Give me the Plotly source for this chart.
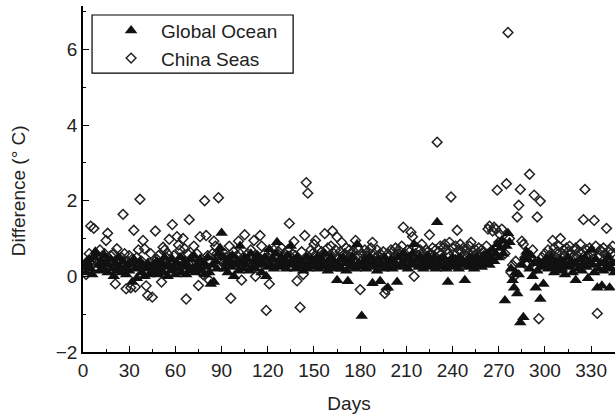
import plotly.graph_objects as go

# Daily temperature differences (°C), day 1 onwards
global_ocean = [
    0.25, 0.1, 0.35, 0.45, 0.2, 0.05, 0.5, 0.65, 0.6, 0.3, 0.15, 0.4, 0.2, 0.55, 0.35,
    0.1, 0.3, 0.45, 0.2, 0.0, 0.35, 0.15, 0.5, 0.25, 0.1, 0.4, 0.2, 0.05, 0.3, 0.15,
    0.35, -0.15, 0.45, 0.2, -0.05, 0.25, 0.4, 0.1, 0.3, 0.0, 0.2, 0.35, 0.05, 0.25, 0.1,
    0.3, 0.15, 0.4, 0.05, 0.2, 0.35, 0.1, 0.5, 0.25, 0.0, 0.3, 0.15, 0.45, 0.2, 0.05,
    0.35, 0.2, 0.5, 0.1, 0.25, 0.4, 0.05, 0.3, 0.15, 0.45, 0.2, 0.55, 0.1, 0.3, 0.2,
    0.45, 0.15, 0.35, 0.05, 0.25, 0.5, 0.1, -0.2, 0.3, -0.15, 0.4, 0.2, 0.6, 0.75, 1.15,
    0.5, 0.2, 0.35, 0.1, 0.45, 0.25, 0.55, 0.0, 0.3, 0.4, 0.15, 0.8, 0.35, 0.2, 0.5,
    0.3, 0.45, 0.15, 0.6, 0.25, 0.4, 0.2, 0.55, 0.3, 0.45, 0.1, 0.35, 0.5, 0.0, 0.25,
    0.72, 0.3, 0.45, 0.2, 0.6, 0.9, 0.35, 0.25, 0.5, 0.3, 0.4, 0.2, 0.55, 0.35, 0.8,
    0.3, 0.45, 0.2, 0.5, 0.35, 0.25, 0.4, 0.15, 0.3, 0.5, 0.2, 0.35, 0.45, 0.25, 0.4,
    0.3, 0.5, 0.2, 0.35, 0.45, 0.25, 0.6, 0.3, 0.15, 0.4, 0.5, 0.25, 0.35, 0.2, -0.1,
    0.3, 0.45, 0.2, 0.5, 0.35, 0.15, -0.13, 0.4, 0.25, 0.5, 0.3, 0.2, 0.85, 0.35, 0.25,
    -1.05, 0.3, 0.45, 0.2, 0.35, 0.5, 0.25, -0.18, 0.4, 0.3, 0.15, 0.45, -0.13, 0.3, 0.2,
    0.5, 0.35, -0.3, 0.25, 0.45, 0.2, 0.4, 0.3, -0.15, 0.5, 0.25, 0.35, 0.6, 0.3, 0.45,
    0.2, 0.5, 0.35, 0.6, 0.85, 0.3, 0.45, 0.25, 0.5, 0.35, 0.2, 0.45, 0.3, 0.55, 0.25,
    0.4, 0.3, 0.5, 0.2, 1.43, 0.35, 0.45, 0.25, 0.5, 0.3, 0.2, -0.15, 0.4, 0.3, 0.5,
    0.25, 0.45, 0.35, 0.2, 0.5, 0.3, 0.4, -0.1, 0.35, 0.25, 0.5, 0.3, 0.45, 0.2, 0.35,
    0.5, 0.3, 0.4, 0.25, 0.55, 0.35, 0.45, 0.6, 0.3, 0.5, 0.7, 0.4, 0.6, 0.85, 0.5,
    0.75, 0.95, 0.6, -0.64, 0.8, 1.14, 0.9, 0.2, -0.1, -0.3, 0.1, -0.45, 0.05, -1.22, 0.3,
    -1.08, 0.5, 0.65, 0.45, 0.2, 0.55, 0.0, 0.35, -0.3, 0.15, 0.4, -0.6, 0.25, -0.2, 0.3,
    0.45, 0.2, 0.35, 0.5, 0.25, 0.1, 0.4, 0.3, 0.15, 0.45, 0.2, 0.35, 0.05, 0.3, 0.5,
    0.25, 0.4, 0.1, 0.35, -0.1, 0.3, 0.2, 0.45, 0.15, 0.35, 0.5, 0.25, -0.05, 0.4, 0.7,
    0.3, 0.1, 0.45, -0.3, 0.2, 0.35, -0.25, 0.15, 0.4, 0.25, 0.5, -0.3, 0.2, 0.35, 0.1,
]

china_seas = [
    0.3, 0.05, 0.4, 0.6, 1.33, 0.45, 1.27, 0.25, 0.55, 0.35, 0.7, 0.5, 0.3, 0.6, 0.95,
    1.14, 0.4, 0.55, 0.3, 0.6, -0.2, 0.73, 0.45, 0.35, 0.5, 1.64, 0.6, -0.33, 0.4, 0.55,
    -0.3, 0.45, 1.22, -0.28, 0.5, 0.7, 2.04, 0.4, 0.95, 0.73, -0.25, -0.5, 0.35, 0.6, -0.55,
    0.3, 1.2, 0.45, 0.55, 0.35, -0.15, 0.77, 0.7, 0.5, 0.6, 0.98, 0.4, 1.37, 0.55, 0.3,
    1.05, 0.83, 0.7, 0.45, 1.0, 0.73, -0.6, 0.6, 1.5, 0.35, 0.5, 0.8, 0.4, 0.6, -0.24,
    1.05, 0.45, 0.05, 2.0, 1.08, 0.55, -0.1, 0.4, 0.6, 0.93, 0.8, 0.6, 2.08, 0.45, 0.55,
    0.35, 0.6, 0.5, 0.3, 0.8, -0.58, 0.45, 0.65, 0.4, 0.55, 0.93, 0.6, -0.1, 0.5, 1.1,
    0.4, 0.6, 0.35, 0.7, 0.5, 0.95, 0.0, 0.55, 0.45, 1.08, 0.8, 0.4, 0.6, -0.9, 0.5,
    -0.2, 0.6, 0.45, 0.7, 0.35, 0.55, 0.65, 0.4, 0.75, 0.5, 0.6, 0.45, 0.7, 1.4, 0.5,
    0.6, 0.92, 0.55, -0.12, 0.4, -0.82, 0.65, 0.05, 1.08, 2.48, 2.2, 0.5, 0.7, 0.6, 0.85,
    0.95, 0.55, 0.7, 0.45, 0.65, 0.6, 1.13, 0.5, 0.75, 0.55, 0.8, 1.2, 0.6, 0.7, 1.04,
    0.5, 0.65, 0.9, 0.55, 0.6, 0.75, 0.45, 0.7, 0.6, 0.5, 0.65, 0.95, 0.55, 0.7, -0.35,
    0.6, 0.45, 0.7, 0.55, 0.65, 0.5, 0.75, 0.9, 0.6, 0.5, 0.7, 0.55, 0.6, 0.45, 0.65,
    -0.45, -0.35, 0.6, 0.55, 0.7, 0.65, 0.5, 0.75, 0.6, 0.7, 0.55, 0.8, 1.3, 0.6, 0.5,
    0.7, 0.65, 1.17, 1.05, 0.0, 0.6, 0.75, 0.55, 0.7, 0.85, 0.6, 0.5, 0.7, 0.65, 1.1,
    0.6, 0.75, 0.55, 0.7, 3.55, 0.65, 0.8, 0.6, 0.75, 0.85, 0.7, 0.6, 0.9, 2.1, 0.75,
    0.6, 0.8, 1.22, 0.7, 0.85, 0.65, 0.75, 0.55, 0.7, 0.6, 0.8, 0.9, 0.65, 0.55, 0.7,
    0.6, 0.75, 0.5, 0.7, 0.65, 0.55, 0.8, 1.25, 1.33, 0.65, 1.2, 1.3, 1.25, 2.28, 0.9,
    1.1, 1.25, 0.8, 0.6, 2.45, 6.45, 1.0, 0.1, 0.3, 0.0, 0.4, 1.57, 1.88, 2.3, 0.93,
    0.85, 0.5, 0.3, 0.6, 2.7, 0.45, 0.7, 2.15, 0.2, 1.57, -1.12, 1.99, 0.5, 0.35, 0.6,
    0.45, 0.7, 0.55, 0.6, 0.95, 0.75, 0.5, 0.65, 0.8, 1.0, 0.6, 0.7, 0.55, 0.75, 0.65,
    0.8, 0.6, 0.5, 0.7, 0.75, 0.55, 0.65, 0.85, 0.6, 1.5, 2.3, 0.7, 0.55, 0.75, 0.65,
    0.6, 1.48, 0.8, -0.98, 0.55, 0.7, 0.65, 0.75, 0.6, 1.27, 0.5, 0.7, 0.6, 0.8, 0.55,
]

days_global = list(range(1, len(global_ocean) + 1))
days_china = list(range(1, len(china_seas) + 1))

x_ticks = [0, 30, 60, 90, 120, 150, 180, 210, 240, 270, 300, 330]
y_ticks = [-2, 0, 2, 4, 6]

FONT = "Liberation Sans, Arial, sans-serif"
INK = "#222222"
FS = 19

fig = go.Figure()

fig.add_trace(go.Scatter(
    x=days_china, y=china_seas, mode="markers", name="China Seas",
    legendrank=2,
    marker=dict(symbol="diamond-open", size=7.5, color=INK,
                line=dict(width=1.5, color=INK)),
))
fig.add_trace(go.Scatter(
    x=days_global, y=global_ocean, mode="markers", name="Global Ocean",
    legendrank=1,
    marker=dict(symbol="triangle-up", size=11, color="#111111",
                line=dict(width=0)),
))

axis_common = dict(
    showline=True, linecolor="black", linewidth=1.5,
    ticks="inside", ticklen=6, tickwidth=1.3, tickcolor="black",
    showgrid=False, zeroline=False,
    tickfont=dict(family=FONT, size=FS, color=INK),
)

fig.update_xaxes(
    **axis_common,
    range=[0, 345.5], tickvals=x_ticks,
    minor=dict(ticks="inside", ticklen=3, tickwidth=1.2, tickcolor="black",
               dtick=15, tick0=0),
    title=dict(text="Days", font=dict(family=FONT, size=FS, color=INK),
               standoff=17),
)
fig.update_yaxes(
    **axis_common,
    range=[-2, 7.15], tickvals=y_ticks,
    minor=dict(ticks="inside", ticklen=3, tickwidth=1.2, tickcolor="black",
               dtick=1, tick0=-2),
)

# Rotated y-axis title, placed in paper coordinates
fig.add_annotation(
    text="Difference (° C)", textangle=-90, showarrow=False,
    xref="paper", yref="paper", x=-0.122, y=0.465,
    xanchor="center", yanchor="middle",
    font=dict(family=FONT, size=FS, color=INK),
)

# Legend frame
fig.add_shape(
    type="rect", xref="paper", yref="paper",
    x0=0.017, x1=0.395, y0=0.806, y1=0.974,
    line=dict(color="black", width=1.2), fillcolor="white", layer="below",
)

fig.update_layout(
    width=615, height=417,
    margin=dict(l=83, r=0, t=6, b=65),
    paper_bgcolor="white", plot_bgcolor="white",
    showlegend=True,
    legend=dict(
        x=0.034, y=0.984, xanchor="left", yanchor="top",
        borderwidth=0, bgcolor="rgba(0,0,0,0)",
        font=dict(family=FONT, size=FS, color=INK),
        itemwidth=50, tracegroupgap=0,
    ),
)

fig.write_html("out.html")
